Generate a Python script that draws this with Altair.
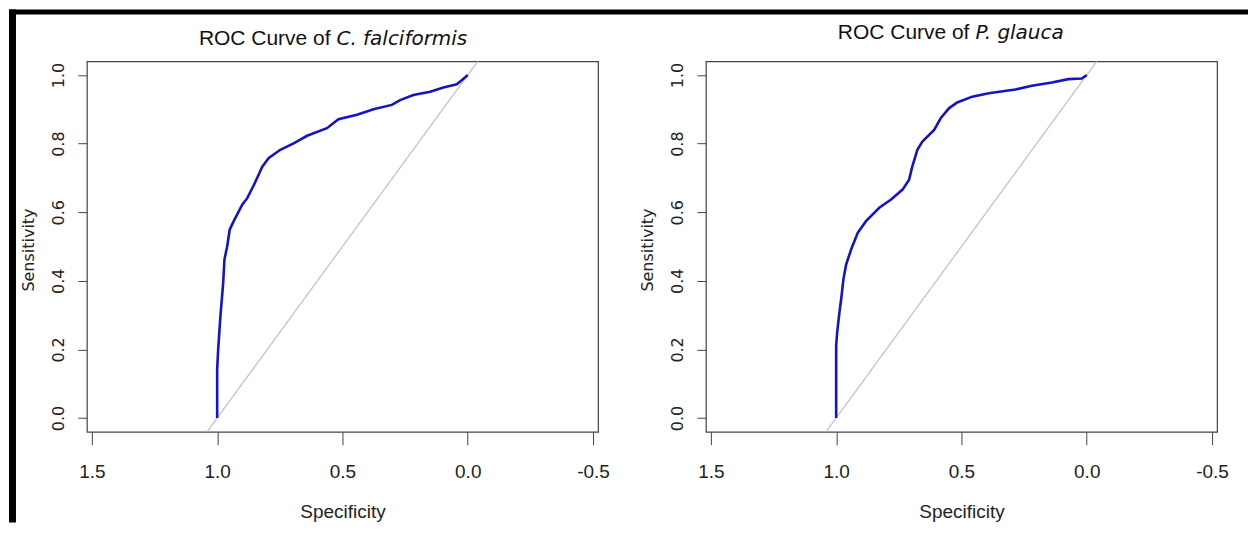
import altair as alt
import pandas as pd

# ---- data ----
cf_spec = [1.0, 1.0, 0.996, 0.987, 0.976, 0.971, 0.96, 0.95, 0.934, 0.90, 0.88, 0.853, 0.82, 0.794,
           0.748, 0.695, 0.641, 0.562, 0.516, 0.442, 0.376, 0.303, 0.27, 0.217, 0.15, 0.097, 0.044, 0.024, 0.0]
cf_sens = [0.0, 0.142, 0.2, 0.297, 0.394, 0.462, 0.501, 0.549, 0.574, 0.622, 0.641, 0.68, 0.733, 0.758,
           0.782, 0.801, 0.823, 0.845, 0.871, 0.884, 0.90, 0.913, 0.927, 0.942, 0.951, 0.964, 0.973, 0.985, 1.0]

pg_spec = [1.0, 1.0, 0.996, 0.987, 0.98, 0.971, 0.96, 0.94, 0.914, 0.881, 0.828, 0.781, 0.735, 0.709,
           0.696, 0.676, 0.656, 0.609, 0.583, 0.55, 0.517, 0.457, 0.391, 0.285, 0.219, 0.139, 0.073, 0.02, 0.0]
pg_sens = [0.0, 0.211, 0.25, 0.308, 0.347, 0.405, 0.448, 0.492, 0.54, 0.574, 0.613, 0.637, 0.666, 0.695,
           0.734, 0.782, 0.806, 0.84, 0.874, 0.903, 0.92, 0.937, 0.947, 0.958, 0.969, 0.978, 0.988, 0.99, 1.0]

diag_spec = [1.04, -0.04]
diag_sens = [-0.04, 1.04]

x_ticks = [1.5, 1.0, 0.5, 0.0, -0.5]
y_ticks = [0.0, 0.2, 0.4, 0.6, 0.8, 1.0]

titles = [("ROC Curve of", "C. falciformis"), ("ROC Curve of", "P. glauca")]

# ---- styling ----
W, H = 512, 371
NARROW = "Liberation Sans Narrow, Arial Narrow, Liberation Sans, Arial"
WIDE = "DejaVu Sans"
BLUE = "#1414C4"
BOX = "#444444"

xscale = alt.Scale(domain=[-0.52, 1.52], reverse=True, nice=False, zero=False)
yscale = alt.Scale(domain=[-0.04, 1.04], nice=False, zero=False)

xaxis = alt.Axis(values=x_ticks, grid=False, domain=False, tickColor=BOX, tickSize=13,
                 labelExpr="datum.value < 0 ? '-' + format(-datum.value, '.1f') : format(datum.value, '.1f')",
                 labelFont=NARROW, labelFontSize=19, labelColor="#222", labelPadding=33,
                 labelBaseline="alphabetic", labelAlign="center", labelFlush=False, labelOverlap=False,
                 title="Specificity", titleFont=NARROW, titleFontSize=19, titleFontWeight="normal",
                 titleColor="#222", titleX=W / 2, titleY=86, titleBaseline="alphabetic", titleAlign="center")

yaxis = alt.Axis(values=y_ticks, grid=False, domain=False, tickColor=BOX, tickSize=9,
                 format=".1f", labelFont=WIDE, labelFontSize=16, labelColor="#222", labelAngle=-90,
                 labelAlign="center", labelBaseline="alphabetic", labelPadding=14,
                 labelFlush=False, labelOverlap=False,
                 title="Sensitivity", titleFont=WIDE, titleFontSize=16, titleFontWeight="normal",
                 titleColor="#222", titleAngle=-90, titleX=-53, titleY=H / 2 + 3,
                 titleBaseline="alphabetic", titleAlign="center")

one = pd.DataFrame({"k": [0]})


def panel(spec, sens, regular, italic, title_y, split, first):
    curve = pd.DataFrame({"spec": spec, "sens": sens, "i": list(range(len(spec)))})
    diag = pd.DataFrame({"spec": diag_spec, "sens": diag_sens, "i": [0, 1]})

    diag_line = alt.Chart(diag).mark_line(color="#C4C4C4", strokeWidth=1.3, clip=True).encode(
        x=alt.X("spec:Q", scale=xscale, axis=xaxis),
        y=alt.Y("sens:Q", scale=yscale, axis=yaxis),
        order="i:Q",
    )
    roc = alt.Chart(curve).mark_line(color=BLUE, strokeWidth=2.6, clip=True).encode(
        x=alt.X("spec:Q", scale=xscale, axis=xaxis),
        y=alt.Y("sens:Q", scale=yscale, axis=yaxis),
        order="i:Q",
    )
    t1 = alt.Chart(one).mark_text(align="right", baseline="middle", font=NARROW, fontSize=21,
                                  color="#111").encode(
        x=alt.value(split), y=alt.value(title_y), text=alt.value(regular))
    t2 = alt.Chart(one).mark_text(align="left", baseline="middle", font=WIDE, fontSize=20,
                                  fontStyle="italic", color="#111").encode(
        x=alt.value(split + 6), y=alt.value(title_y), text=alt.value(italic))
    layers = [diag_line, roc, t1, t2]
    if first:
        left_bar = alt.Chart(one).mark_rect(color="black").encode(
            x=alt.value(-78), x2=alt.value(-71), y=alt.value(-52), y2=alt.value(462))
        top_bar = alt.Chart(one).mark_rect(color="black").encode(
            x=alt.value(-78), x2=alt.value(W + 108 + 543), y=alt.value(-52), y2=alt.value(-47))
        layers += [left_bar, top_bar]
    return alt.layer(*layers).properties(width=W, height=H)


p1 = panel(cf_spec, cf_sens, titles[0][0], titles[0][1], -22, 244, True)
p2 = panel(pg_spec, pg_sens, titles[1][0], titles[1][1], -28, 264, False)

chart = alt.hconcat(p1, p2, spacing=108, bounds="flush").properties(
    padding={"left": 0, "top": 0, "right": 0, "bottom": 0},
    background="white",
).configure_view(stroke=BOX, strokeWidth=1.2)

chart.save("out.html", embed_options={"renderer": "svg", "actions": False})
